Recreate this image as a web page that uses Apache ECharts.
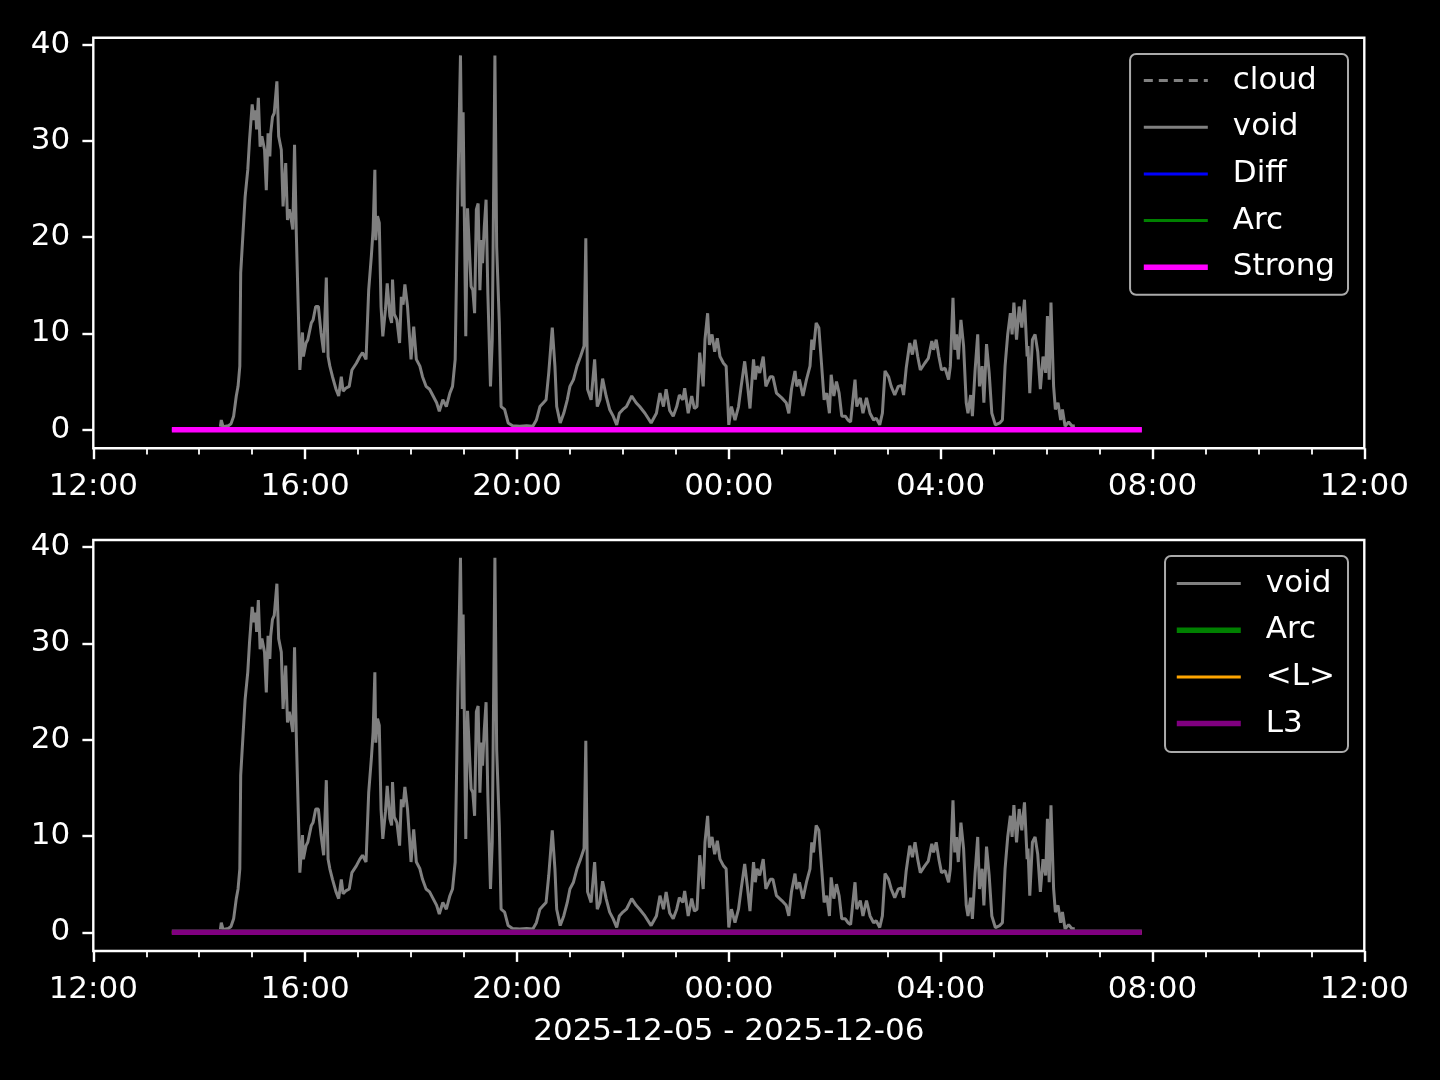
<!DOCTYPE html>
<html>
<head>
<meta charset="utf-8">
<script src="https://cdn.jsdelivr.net/npm/echarts@6/dist/echarts.min.js"></script>
<style>
html,body{margin:0;padding:0;background:#000;}
#chart{width:1440px;height:1080px;}
</style>
</head>
<body>
<div id="chart"></div>
<script>
// ---- data ----
const voidTimes = ["14:24","14:25","14:27","14:30","14:33","14:36","14:39","14:42","14:44","14:46","14:47","14:49","14:52","14:55","14:57","15:00","15:02","15:04","15:05","15:07","15:09","15:11","15:14","15:16","15:18","15:20","15:21","15:23","15:25","15:28","15:30","15:33","15:35","15:38","15:40","15:42","15:44","15:46","15:48","15:50","15:54","15:57","15:58","16:01","16:03","16:07","16:09","16:12","16:15","16:18","16:21","16:24","16:26","16:28","16:31","16:35","16:38","16:41","16:43","16:46","16:50","16:53","16:58","17:02","17:05","17:09","17:12","17:15","17:17","17:19","17:20","17:22","17:24","17:26","17:28","17:31","17:33","17:36","17:38","17:39","17:41","17:44","17:47","17:49","17:51","17:53","17:56","18:00","18:03","18:06","18:10","18:13","18:17","18:21","18:25","18:29","18:32","18:36","18:40","18:44","18:47","18:50","18:53","18:56","18:58","18:59","19:02","19:04","19:06","19:08","19:10","19:12","19:14","19:16","19:18","19:20","19:21","19:23","19:25","19:27","19:30","19:32","19:35","19:37","19:40","19:42","19:46","19:50","19:55","20:03","20:11","20:18","20:22","20:26","20:30","20:33","20:36","20:40","20:43","20:45","20:49","20:53","20:57","21:00","21:04","21:08","21:12","21:16","21:18","21:20","21:24","21:28","21:31","21:34","21:37","21:41","21:45","21:49","21:53","21:56","22:00","22:04","22:10","22:15","22:19","22:25","22:32","22:38","22:42","22:46","22:49","22:53","22:57","23:01","23:04","23:08","23:10","23:14","23:18","23:21","23:24","23:27","23:29","23:31","23:33","23:36","23:38","23:41","23:44","23:47","23:50","23:54","23:57","00:00","00:03","00:07","00:11","00:14","00:18","00:21","00:24","00:28","00:30","00:32","00:35","00:39","00:42","00:47","00:50","00:54","01:00","01:05","01:08","01:11","01:15","01:17","01:20","01:24","01:28","01:32","01:34","01:36","01:39","01:42","01:45","01:48","01:51","01:54","01:56","01:59","02:02","02:05","02:08","02:12","02:15","02:18","02:20","02:23","02:25","02:29","02:32","02:36","02:40","02:44","02:47","02:51","02:54","02:57","03:01","03:04","03:08","03:12","03:16","03:18","03:21","03:25","03:28","03:31","03:34","03:37","03:42","03:46","03:50","03:52","03:55","03:58","04:01","04:05","04:09","04:11","04:14","04:16","04:18","04:20","04:23","04:26","04:29","04:31","04:34","04:36","04:39","04:42","04:44","04:47","04:49","04:52","04:55","04:58","05:02","05:07","05:10","05:13","05:16","05:19","05:21","05:23","05:26","05:29","05:32","05:35","05:38","05:39","05:41","05:44","05:47","05:50","05:53","05:56","05:59","06:01","06:03","06:05","06:08","06:10","06:13","06:16","06:18","06:21","06:25","06:29","06:32"];
const voidValues = [0.3,1.0,0.3,0.35,0.4,0.6,1.4,3.5,4.5,6.6,16.3,16.5,24.2,27.0,30.1,33.8,32.2,33.2,31.2,34.5,29.4,30.5,29.1,24.9,30.8,28.4,30.8,32.5,32.9,36.2,30.5,29.1,23.2,27.7,21.8,22.9,22.0,20.8,29.6,20.4,6.2,10.1,7.6,9.0,9.35,11.1,11.4,12.8,12.8,10.1,8.0,15.8,7.6,6.6,5.5,4.2,3.5,5.5,4.0,4.3,4.5,6.2,6.9,7.6,8.0,7.3,14.5,18.0,20.8,27.0,19.7,22.2,21.5,12.8,9.7,12.5,15.2,11.8,11.1,15.6,12.0,11.4,9.0,13.8,13.0,15.1,12.8,7.3,10.7,7.3,6.6,5.5,4.5,4.2,3.5,2.8,1.9,3.1,2.4,3.8,4.5,7.3,24.9,38.9,23.2,33.0,9.7,23.0,22.9,14.9,14.5,12.1,22.9,23.5,14.5,19.7,17.3,21.1,23.9,14.2,4.5,9.35,38.9,19.0,11.1,2.4,2.1,0.7,0.4,0.35,0.4,0.35,1.0,2.4,2.8,3.1,5.9,10.6,6.6,2.4,0.7,1.7,3.1,4.5,5.2,6.6,7.6,8.7,19.9,4.2,3.1,7.3,2.4,3.1,5.3,3.5,2.1,1.4,0.5,1.7,2.1,2.4,3.5,2.8,2.4,1.7,0.7,1.7,3.8,2.4,4.2,2.0,1.4,2.4,3.6,3.1,4.3,1.7,3.5,2.2,2.4,8.0,8.1,4.5,9.35,12.1,8.8,9.9,8.1,9.5,7.6,6.9,6.6,0.5,2.4,1.0,2.4,4.5,7.1,4.8,2.2,7.3,5.2,6.6,5.9,7.6,4.5,5.5,5.5,3.8,3.3,2.8,1.7,4.2,6.1,4.5,5.2,3.5,5.2,6.6,9.35,8.3,11.1,10.6,6.9,3.1,3.8,1.7,5.7,3.5,5.0,3.8,1.4,1.4,1.0,0.8,2.6,5.2,2.4,3.3,1.7,3.3,1.7,1.0,1.2,0.5,1.7,6.1,5.5,4.5,3.6,4.5,4.6,3.6,6.4,9.0,7.8,9.35,7.6,6.2,6.9,7.4,9.2,8.3,9.35,7.6,6.2,6.4,5.2,6.6,13.7,8.3,9.9,7.3,11.4,8.7,2.8,1.7,3.6,1.4,6.1,9.9,4.5,6.6,2.8,8.9,5.9,1.7,0.5,0.7,1.0,6.6,9.9,12.1,9.9,13.2,9.35,12.8,10.6,13.5,7.6,8.7,3.8,9.35,9.9,8.1,4.2,7.6,5.9,11.8,5.2,13.2,4.5,2.1,2.8,1.0,2.1,0.35,0.8,0.35,0.4];
const flatTimes = ["13:29","07:48"];
const flatValues = [0, 0];
const yTickValues = [0, 10, 20, 30, 40];
const topLegendNames = ["cloud","void","Diff","Arc","Strong"];
const bottomLegendNames = ["void","Arc","<L>","L3"];
const dateLabel = "2025-12-05 - 2025-12-06";

// ---- helpers ----
function toMs(hhmm) {
  const [h, m] = hhmm.split(":").map(Number);
  const day = h < 12 ? 6 : 5;
  return Date.UTC(2025, 11, day, h, m);
}
function pairs(times, vals) { return times.map((t, i) => [toMs(t), vals[i]]); }
const voidData = pairs(voidTimes, voidValues);
const flatData = pairs(flatTimes, flatValues);
const X_MIN = Date.UTC(2025, 11, 5, 12, 0);
const X_MAX = Date.UTC(2025, 11, 6, 12, 0);
const H4 = 4 * 3600 * 1000;

const FONT = "DejaVu Sans";
const FS = 31;
const W1 = 3, W2 = 5.5;

function pad2(n){ return (n < 10 ? "0" : "") + n; }

function xAxis(gridIndex, withName) {
  const ax = {
    type: "value", gridIndex, min: X_MIN, max: X_MAX, interval: H4,
    axisLine: { show: false, onZero: false },
    axisTick: { show: true, inside: false, length: 10.9, lineStyle: { color: "#fff", width: 2.4 } },
    minorTick: { show: true, splitNumber: 4, length: 6.2, lineStyle: { color: "#fff", width: 1.8 } },
    splitLine: { show: false }, minorSplitLine: { show: false },
    axisLabel: {
      color: "#fff", fontFamily: FONT, fontSize: FS, margin: 23,
      formatter: function (v) {
        const d = new Date(v);
        return pad2(d.getUTCHours()) + ":" + pad2(d.getUTCMinutes());
      }
    }
  };
  if (withName) {
    ax.name = dateLabel;
    ax.nameLocation = "middle";
    ax.nameGap = 65;
    ax.nameTextStyle = { color: "#fff", fontFamily: FONT, fontSize: FS };
  }
  return ax;
}
function yAxis(gridIndex) {
  return {
    type: "value", gridIndex, min: -1.94, max: 40.74,
    axisLine: { show: false, onZero: false },
    axisTick: { show: true, inside: false, length: 10.9, customValues: yTickValues, lineStyle: { color: "#fff", width: 2.4 } },
    splitLine: { show: false },
    axisLabel: { color: "#fff", fontFamily: FONT, fontSize: FS, margin: 23, customValues: yTickValues }
  };
}
function line(name, data, color, width, xi, extra) {
  return Object.assign({
    name, type: "line", xAxisIndex: xi, yAxisIndex: xi, data,
    symbol: "none", showSymbol: false,
    lineStyle: { color, width }, itemStyle: { color },
    emphasis: { disabled: true }, silent: true, z: 2
  }, extra || {});
}
const hidden = { opacity: 0, borderWidth: 0 };

const legendCommon = {
  orient: "vertical", right: 92, itemWidth: 64, itemHeight: 31, itemGap: 15.7,
  backgroundColor: "#000", borderColor: "#aaaaaa", borderWidth: 2, borderRadius: 6,
  textStyle: { color: "#fff", fontFamily: FONT, fontSize: FS, lineHeight: 31, padding: [0, 0, 0, 20] },
  selectedMode: false
};

const option = {
  backgroundColor: "#000",
  animation: false,
  grid: [
    { left: 93.3, right: 75.7, top: 37.7, height: 410.6, show: true, borderColor: "#fff", borderWidth: 2.4, backgroundColor: "transparent" },
    { left: 93.3, right: 75.7, top: 540, height: 411, show: true, borderColor: "#fff", borderWidth: 2.4, backgroundColor: "transparent" }
  ],
  xAxis: [xAxis(0, false), xAxis(1, true)],
  yAxis: [yAxis(0), yAxis(1)],
  legend: [
    Object.assign({}, legendCommon, {
      top: 54, padding: [11, 13, 12, 11],
      data: [
        { name: "cloud", itemStyle: hidden, lineStyle: { color: "#808080", width: W1, type: [9, 6] } },
        { name: "void", itemStyle: hidden, lineStyle: { color: "#808080", width: W1 } },
        { name: "Diff", itemStyle: hidden, lineStyle: { color: "#0000ff", width: W1 } },
        { name: "Arc", itemStyle: hidden, lineStyle: { color: "#008000", width: W1 } },
        { name: "Strong", itemStyle: hidden, lineStyle: { color: "#ff00ff", width: W2 } }
      ]
    }),
    Object.assign({}, legendCommon, {
      top: 556, padding: [12, 13, 13, 9],
      data: [
        { name: "void", itemStyle: hidden, lineStyle: { color: "#808080", width: W1 } },
        { name: "Arc", itemStyle: hidden, lineStyle: { color: "#008000", width: W2 } },
        { name: "<L>", itemStyle: hidden, lineStyle: { color: "#ffa500", width: W1 } },
        { name: "L3", itemStyle: hidden, lineStyle: { color: "#800080", width: W2 } }
      ]
    })
  ],
  series: [
    line("cloud", [], "#808080", W1, 0, { lineStyle: { color: "#808080", width: W1, type: [9, 6] } }),
    line("void", voidData, "#808080", W1, 0),
    line("Diff", flatData, "#0000ff", W1, 0),
    line("Arc", flatData, "#008000", W1, 0),
    line("Strong", flatData, "#ff00ff", W2, 0, { z: 3 }),
    line("void", voidData, "#808080", W1, 1),
    line("Arc", flatData, "#008000", W2, 1),
    line("<L>", flatData, "#ffa500", W1, 1),
    line("L3", flatData, "#800080", W2, 1, { z: 3 })
  ]
};

const chart = echarts.init(document.getElementById("chart"), null, { renderer: "canvas", width: 1440, height: 1080 });
chart.setOption(option);
</script>
</body>
</html>
